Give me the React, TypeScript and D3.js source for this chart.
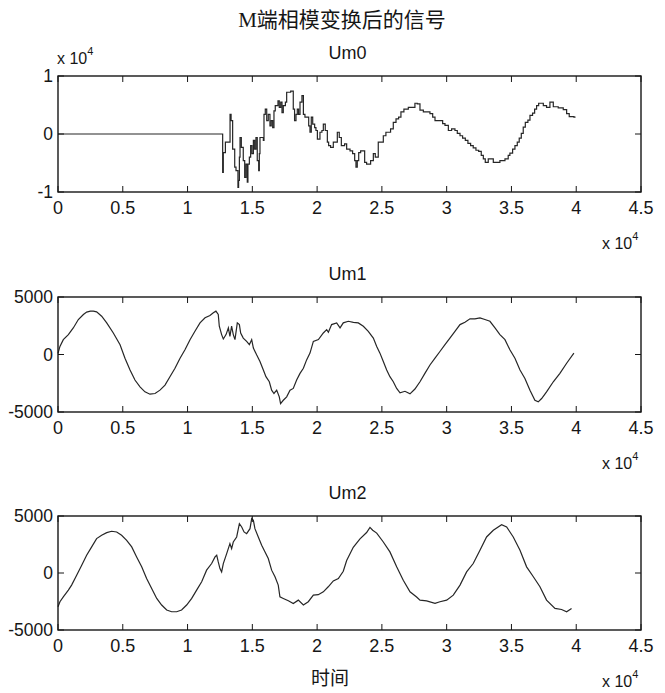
import * as d3 from 'd3';

// time axis is in units of 10^4 samples
const xTickValues = [0, 0.5, 1, 1.5, 2, 2.5, 3, 3.5, 4, 4.5];
const xTickLabels = ['0', '0.5', '1', '1.5', '2', '2.5', '3', '3.5', '4', '4.5'];

const panelTitles = ['Um0', 'Um1', 'Um2'];
const yTickLabels0 = ['1', '0', '-1'];
const yTickLabels12 = ['5000', '0', '-5000'];

// Um0 (units of 10^4)
const um0T = [
  0, 1.271, 1.276, 1.292, 1.328, 1.336, 1.348, 1.364, 1.374, 1.389, 1.394, 1.4, 1.405, 1.415,
  1.43, 1.441, 1.451, 1.461, 1.466, 1.477, 1.487, 1.497, 1.508, 1.518, 1.528, 1.538, 1.549,
  1.554, 1.559, 1.585, 1.59, 1.6, 1.611, 1.623, 1.636, 1.646, 1.657, 1.667, 1.677, 1.698,
  1.708, 1.719, 1.729, 1.739, 1.755, 1.765, 1.796, 1.816, 1.826, 1.837, 1.847, 1.857, 1.868,
  1.883, 1.894, 1.906, 1.935, 1.945, 1.955, 1.966, 1.981, 1.991, 2.002, 2.022, 2.037, 2.048,
  2.063, 2.079, 2.089, 2.104, 2.125, 2.156, 2.171, 2.187, 2.212, 2.228, 2.254, 2.274, 2.29,
  2.3, 2.31, 2.321, 2.336, 2.367, 2.382, 2.413, 2.434, 2.449, 2.472, 2.511, 2.531, 2.567,
  2.588, 2.609, 2.629, 2.647, 2.67, 2.704, 2.755, 2.773, 2.794, 2.82, 2.871, 2.892, 2.91,
  2.948, 2.969, 2.987, 3.013, 3.038, 3.064, 3.082, 3.103, 3.123, 3.144, 3.164, 3.185, 3.205,
  3.226, 3.247, 3.267, 3.283, 3.298, 3.321, 3.36, 3.411, 3.45, 3.475, 3.488, 3.509, 3.527,
  3.545, 3.56, 3.576, 3.591, 3.607, 3.627, 3.643, 3.663, 3.679, 3.694, 3.71,
  3.746, 3.771, 3.797, 3.823, 3.861, 3.9, 3.926, 3.946, 3.982, 3.99,
];
const um0V = [
  0, -0.66, -0.32, -0.14, 0.34, 0.23, -0.26, -0.57, -0.63, -0.92, -0.8, -0.4, -0.06, -0.23,
  -0.46, -0.75, -0.52, -0.83, -0.52, -0.4, -0.2, -0.34, -0.11, -0.26, -0.06, -0.46, -0.63,
  -0.34, -0.06, -0.11, 0.34, 0.43, 0.23, 0.34, 0.14, 0.23, 0.11, 0.4, 0.49, 0.57,
  0.46, 0.55, 0.37, 0.49, 0.55, 0.72, 0.74, 0.43, 0.23, 0.34, 0.43, 0.34, 0.55,
  0.66, 0.34, 0.29, 0.14, 0.03, 0.29, 0.17, 0.11, 0.06, -0.09, 0.03, 0.06, 0.17,
  0.06, -0.14, -0.2, -0.23, -0.14, 0.03, -0.06, -0.2, -0.17, -0.26, -0.29, -0.34, -0.46,
  -0.57, -0.46, -0.32, -0.29, -0.49, -0.52, -0.46, -0.34, -0.4, -0.14, -0.03, 0.03, 0.09,
  0.2, 0.26, 0.29, 0.38, 0.43, 0.46, 0.53, 0.52, 0.41, 0.38, 0.35, 0.29, 0.23,
  0.23, 0.18, 0.15, 0.06, 0.09, 0.06, 0.01, -0.03, -0.07, -0.11, -0.16, -0.2, -0.24,
  -0.28, -0.3, -0.37, -0.43, -0.49, -0.43, -0.49, -0.46, -0.43, -0.37, -0.33, -0.26, -0.2,
  -0.14, -0.07, 0.01, 0.12, 0.2, 0.24, 0.32, 0.36, 0.43, 0.49, 0.53,
  0.49, 0.46, 0.55, 0.47, 0.45, 0.42, 0.35, 0.3, 0.29, 0.28,
];

// Um1
const um1T = [
  0, 0.015, 0.041, 0.08, 0.118, 0.157, 0.196, 0.221, 0.25, 0.273, 0.298, 0.337, 0.376, 0.427,
  0.479, 0.517, 0.556, 0.594, 0.633, 0.671, 0.71, 0.749, 0.787, 0.826, 0.864, 0.903, 0.942,
  0.98, 1.019, 1.057, 1.096, 1.135, 1.173, 1.199, 1.219, 1.237, 1.245, 1.263, 1.276, 1.297,
  1.315, 1.327, 1.34, 1.353, 1.366, 1.384, 1.4, 1.41, 1.43, 1.456, 1.477, 1.495, 1.508,
  1.533, 1.559, 1.585, 1.605, 1.631, 1.649, 1.667, 1.688, 1.708, 1.718, 1.739, 1.765, 1.791,
  1.816, 1.842, 1.868, 1.894, 1.919, 1.945, 1.971, 2.01, 2.048, 2.074, 2.087, 2.112, 2.151,
  2.177, 2.202, 2.241, 2.28, 2.318, 2.357, 2.395, 2.434, 2.46, 2.485, 2.511, 2.537, 2.562,
  2.588, 2.614, 2.64, 2.678, 2.717, 2.755, 2.794, 2.832, 2.871, 2.91, 2.948, 2.987, 3.025,
  3.064, 3.103, 3.141, 3.18, 3.218, 3.257, 3.295, 3.334, 3.373, 3.411, 3.45, 3.488, 3.527,
  3.566, 3.604, 3.643, 3.681, 3.707, 3.733, 3.771, 3.823, 3.874, 3.926, 3.982,
];
const um1V = [
  100, 700, 1290, 1730, 2310, 3040, 3480, 3690, 3770, 3770, 3710, 3330, 2750, 1870,
  850, -320, -1350, -2220, -2810, -3250, -3450, -3390, -3100, -2660, -1930, -1200, -320,
  410, 1290, 2020, 2750, 3190, 3390, 3630, 3770, 3480, 2460, 1730, 1350, 1730,
  2310, 1580, 2460, 1730, 1290, 2750, 2600, 1870, 1430, 1140, 850, 1290, 560,
  -30, -610, -1350, -1930, -2370, -3100, -3390, -3100, -3680, -4270, -3980, -3680, -3100,
  -2950, -2220, -1640, -1200, -470, 120, 1140, 1300, 1870, 2160, 1930, 2600, 2750,
  2310, 2750, 2890, 2800, 2750, 2460, 2020, 1430, 700, 120, -610, -1350, -1930,
  -2370, -2950, -3330, -3200, -3420, -3000, -2370, -1640, -910, -320, 260, 850, 1430,
  2020, 2600, 2810, 3100, 3100, 3190, 3040, 2890, 2310, 1730, 1290, 410, -320,
  -1350, -2080, -3100, -3980, -4120, -3830, -3250, -2370, -1640, -760, 120,
];

// Um2
const um2T = [
  0, 0.015, 0.041, 0.08, 0.105, 0.144, 0.183, 0.221, 0.26, 0.298, 0.337, 0.376, 0.414, 0.453,
  0.491, 0.53, 0.569, 0.607, 0.646, 0.684, 0.723, 0.762, 0.8, 0.839, 0.877, 0.916, 0.954,
  0.993, 1.032, 1.07, 1.109, 1.147, 1.186, 1.212, 1.225, 1.237, 1.25, 1.263, 1.276, 1.302,
  1.327, 1.34, 1.353, 1.379, 1.4, 1.418, 1.436, 1.456, 1.482, 1.495, 1.508, 1.52, 1.546,
  1.572, 1.598, 1.623, 1.649, 1.675, 1.7, 1.713, 1.739, 1.778, 1.816, 1.855, 1.894, 1.932,
  1.971, 2.009, 2.048, 2.086, 2.125, 2.164, 2.202, 2.228, 2.279, 2.331, 2.382, 2.408, 2.429,
  2.46, 2.511, 2.562, 2.614, 2.665, 2.717, 2.768, 2.794, 2.845, 2.91, 2.948, 3, 3.051,
  3.103, 3.154, 3.205, 3.257, 3.308, 3.36, 3.424, 3.463, 3.514, 3.566, 3.617, 3.669, 3.72,
  3.771, 3.836, 3.887, 3.926, 3.964,
];
const um2V = [
  -2960, -2520, -2090, -1500, -1060, -190, 680, 1560, 2290, 3020, 3310, 3540, 3660, 3600,
  3310, 2870, 2290, 1410, 540, -480, -1360, -2230, -2810, -3250, -3400, -3400, -3250,
  -2810, -2230, -1500, -770, 250, 830, 1410, 1560, 970, 390, 100, 830, 1700,
  2580, 2140, 2720, 3160, 4330, 4040, 3600, 3450, 3890, 4770, 4620, 3890, 3160,
  2430, 1850, 1270, 250, -330, -1060, -2090, -2230, -2440, -2670, -2380, -2810, -2520,
  -1940, -1900, -1650, -1210, -700, -480, 150, 1100, 2250, 3000, 3550, 4000, 3750,
  3500, 2720, 1850, 540, -630, -1650, -2100, -2380, -2440, -2670, -2520, -2380, -1940,
  -1060, 100, 830, 1990, 3160, 3750, 4240, 4040, 3160, 1990, 540, -330, -1210,
  -2380, -3110, -3200, -3400, -3110,
];

const W = 665;
const H = 693;
const left = 58;
const right = 641;
const panels = [
  { top: 76, bottom: 192, domain: [-1, 1], ticks: [1, 0, -1], labels: yTickLabels0, t: um0T, v: um0V, step: true },
  { top: 297, bottom: 412, domain: [-5000, 5000], ticks: [5000, 0, -5000], labels: yTickLabels12, t: um1T, v: um1V, step: false },
  { top: 516, bottom: 630, domain: [-5000, 5000], ticks: [5000, 0, -5000], labels: yTickLabels12, t: um2T, v: um2V, step: false },
];

const sans = 'Liberation Sans, Arial, sans-serif';
const ink = '#161616';
const tickLen = 6;

function Panel({ p, title }: { p: any; title: string }) {
  const x = d3.scaleLinear().domain([0, 4.5]).range([left, right]);
  const y = d3.scaleLinear().domain(p.domain).range([p.bottom, p.top]);
  const pts: [number, number][] = p.t.map((t: number, i: number) => [t, p.v[i]]);
  const line = d3
    .line<[number, number]>()
    .x((d) => x(d[0]))
    .y((d) => y(d[1]))
    .curve(p.step ? d3.curveStepAfter : d3.curveLinear);

  return (
    <g>
      <text x={(left + right) / 2 - 2} y={p.top - 17} textAnchor="middle" fontFamily={sans} fontSize={18} fill={ink}>
        {title}
      </text>
      <path d={line(pts) || ''} fill="none" stroke="#262626" strokeWidth={1.2} />
      <rect x={left} y={p.top} width={right - left} height={p.bottom - p.top} fill="none" stroke={ink} strokeWidth={1.4} />
      {xTickValues.map((t, i) => (
        <g key={'x' + i}>
          <line x1={x(t)} x2={x(t)} y1={p.bottom} y2={p.bottom - tickLen} stroke={ink} />
          <line x1={x(t)} x2={x(t)} y1={p.top} y2={p.top + tickLen} stroke={ink} />
          <text x={x(t)} y={p.bottom + 22} textAnchor="middle" fontFamily={sans} fontSize={18} fill={ink}>
            {xTickLabels[i]}
          </text>
        </g>
      ))}
      {p.ticks.map((v: number, i: number) => (
        <g key={'y' + i}>
          <line x1={left} x2={left + tickLen} y1={y(v)} y2={y(v)} stroke={ink} />
          <line x1={right} x2={right - tickLen} y1={y(v)} y2={y(v)} stroke={ink} />
          <text x={left - 5} y={y(v) + 6} textAnchor="end" fontFamily={sans} fontSize={17.5} fill={ink}>
            {p.labels[i]}
          </text>
        </g>
      ))}
      <text x={602} y={p.bottom + 57} fontFamily={sans} fontSize={16} fill={ink}>
        x 10<tspan dy={-9} fontSize={11}>4</tspan>
      </text>
    </g>
  );
}

export default function App() {
  return (
    <svg width={W} height={H} style={{ position: 'absolute', left: 0, top: 0, background: '#fff' }}>
      <rect width={W} height={H} fill="#fff" />
      <text x={342} y={27} textAnchor="middle" fontFamily="Liberation Serif, Noto Sans CJK SC" fontSize={21} fill={ink}>
        M端相模变换后的信号
      </text>
      <text x={57} y={64} fontFamily={sans} fontSize={16} fill={ink}>
        x 10<tspan dy={-9} fontSize={11}>4</tspan>
      </text>
      {panels.map((p, i) => (
        <Panel key={i} p={p} title={panelTitles[i]} />
      ))}
      <text x={330} y={685} textAnchor="middle" fontFamily="Noto Sans CJK SC" fontSize={19} fill={ink}>
        时间
      </text>
    </svg>
  );
}
